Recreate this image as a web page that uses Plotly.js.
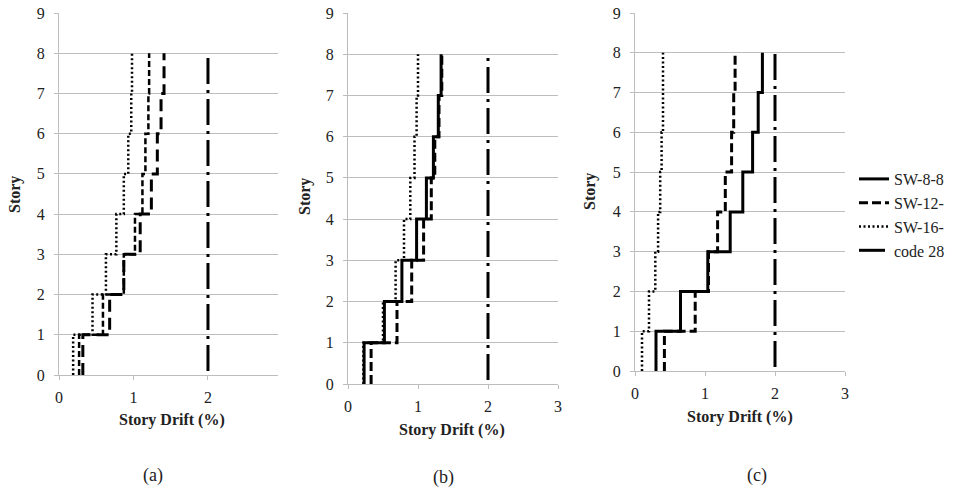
<!DOCTYPE html>
<html>
<head>
<meta charset="utf-8">
<script src="https://cdn.plot.ly/plotly-3.0.1.min.js"></script>
<style>html,body{margin:0;padding:0;background:#fff;}#chart{width:955px;height:490px;}</style>
</head>
<body>
<div id="chart"></div>
<script>
// ---- data (story drift, %, per story 1..8) ----
const stories = [0, 1, 2, 3, 4, 5, 6, 7, 8];
const yTicks = [0, 1, 2, 3, 4, 5, 6, 7, 8, 9];
const xTicksA = [0, 1, 2];
const xTicksBC = [0, 1, 2, 3];

// panel (a)
const a_outer  = [0.32, 0.68, 0.87, 1.09, 1.24, 1.32, 1.37, 1.41];
const a_middle = [0.27, 0.59, 0.87, 1.02, 1.12, 1.16, 1.20, 1.21];
const a_dotted = [0.19, 0.45, 0.63, 0.77, 0.87, 0.93, 0.97, 0.98];
// panel (b)
const b_sw8  = [0.23, 0.52, 0.77, 0.98, 1.12, 1.22, 1.29, 1.33];
const b_sw12 = [0.33, 0.70, 0.91, 1.08, 1.19, 1.24, 1.30, 1.34];
const b_sw16 = [0.22, 0.50, 0.68, 0.80, 0.89, 0.95, 0.98, 1.00];
// panel (c)
const c_sw8  = [0.30, 0.65, 1.04, 1.36, 1.54, 1.68, 1.76, 1.82];
const c_sw12 = [0.42, 0.86, 1.05, 1.18, 1.29, 1.38, 1.41, 1.43];
const c_sw16 = [0.10, 0.20, 0.29, 0.33, 0.36, 0.38, 0.40, 0.40];
// code limit
const codeX = [2, 2];
const codeY = [0.1, 8];

const seriesNames = ['SW-8-8', 'SW-12-', 'SW-16-', 'code 28'];
const panelLabels = ['(a)', '(b)', '(c)'];

// ---- helpers ----
const W = 955, H = 490;
const px = v => v / W;
const py = v => 1 - v / H;
const FONT = '"Liberation Serif", "Times New Roman", Times, serif';

function stepTrace(d, xa, ya, name, line, show) {
  return {
    x: d.concat([d[d.length - 1]]),
    y: stories,
    xaxis: xa, yaxis: ya,
    type: 'scatter', mode: 'lines',
    line: Object.assign({shape: 'vh', color: '#000'}, line),
    name: name, showlegend: !!show, legendgroup: name,
    hoverinfo: 'skip'
  };
}
function codeTrace(xa, ya, show) {
  return {
    x: codeX, y: codeY, xaxis: xa, yaxis: ya,
    type: 'scatter', mode: 'lines',
    line: {color: '#000', width: 3, dash: '26px,6px,3px,6px'},
    name: seriesNames[3], showlegend: !!show, legendgroup: seriesNames[3],
    hoverinfo: 'skip'
  };
}

const SOLID = {width: 3};
const DASH = {width: 3, dash: '9px,4px'};
const DOT = {width: 2.5, dash: '2px,2.5px'};

const traces = [
  // (a)
  stepTrace(a_dotted, 'x', 'y', seriesNames[2], DOT, false),
  stepTrace(a_middle, 'x', 'y', seriesNames[1], {width: 2.5, dash: '6px,3px'}, false),
  stepTrace(a_outer, 'x', 'y', seriesNames[0], {width: 3, dash: '12px,6px'}, false),
  codeTrace('x', 'y', false),
  // (b)
  stepTrace(b_sw16, 'x2', 'y2', seriesNames[2], DOT, false),
  stepTrace(b_sw12, 'x2', 'y2', seriesNames[1], DASH, false),
  stepTrace(b_sw8, 'x2', 'y2', seriesNames[0], SOLID, false),
  codeTrace('x2', 'y2', false),
  // (c)
  stepTrace(c_sw8, 'x3', 'y3', seriesNames[0], SOLID, true),
  stepTrace(c_sw12, 'x3', 'y3', seriesNames[1], DASH, true),
  stepTrace(c_sw16, 'x3', 'y3', seriesNames[2], DOT, true),
  codeTrace('x3', 'y3', true)
];

const tickFont = {family: FONT, size: 16, color: '#222'};
function xAxis(l, r, range, ticks, anchor) {
  return {
    domain: [px(l), px(r)], range: range, anchor: anchor,
    tickvals: ticks, ticktext: ticks.map(String),
    showgrid: false, zeroline: false,
    showline: true, linecolor: '#bdbdbd', linewidth: 1,
    ticks: 'outside', ticklen: 4, tickcolor: '#bdbdbd',
    ticklabelstandoff: 4,
    tickfont: tickFont, fixedrange: true
  };
}
function yAxis(top, bottom, anchor) {
  return {
    domain: [py(bottom), py(top)], range: [0, 9], anchor: anchor,
    tickvals: yTicks, ticktext: yTicks.map(String),
    showgrid: true, gridcolor: '#bdbdbd', gridwidth: 1,
    zeroline: false,
    showline: true, linecolor: '#bdbdbd', linewidth: 1,
    ticks: 'outside', ticklen: 4, tickcolor: '#bdbdbd',
    ticklabelstandoff: 6,
    tickfont: tickFont, fixedrange: true
  };
}

const titleFont = {family: FONT, size: 16, color: '#222'};
const annotations = [];
const storyPos = [[15, 195], [305, 197], [590, 192]];
const driftPos = [[172, 420], [452, 430], [740, 417]];
const labelPos = [[153, 475], [443, 477], [757, 475]];
for (let i = 0; i < 3; i++) {
  annotations.push({xref: 'paper', yref: 'paper', x: px(storyPos[i][0]), y: py(storyPos[i][1]),
    text: '<b>Story</b>', showarrow: false, textangle: -90, font: titleFont,
    xanchor: 'center', yanchor: 'middle'});
  annotations.push({xref: 'paper', yref: 'paper', x: px(driftPos[i][0]), y: py(driftPos[i][1]),
    text: '<b>Story Drift (%)</b>', showarrow: false, font: titleFont,
    xanchor: 'center', yanchor: 'middle'});
  annotations.push({xref: 'paper', yref: 'paper', x: px(labelPos[i][0]), y: py(labelPos[i][1]),
    text: panelLabels[i], showarrow: false, font: {family: FONT, size: 18, color: '#222'},
    xanchor: 'center', yanchor: 'middle'});
}

const layout = {
  width: W, height: H,
  font: {family: FONT},
  margin: {l: 0, r: 0, t: 0, b: 0},
  paper_bgcolor: '#fff', plot_bgcolor: '#fff',
  showlegend: true,
  legend: {x: px(854), y: py(162), xanchor: 'left', yanchor: 'top',
    bgcolor: 'rgba(0,0,0,0)', font: {family: FONT, size: 16, color: '#222'},
    traceorder: 'normal', itemwidth: 30},
  xaxis: xAxis(59, 278, [0, 2.94], xTicksA, 'y'),
  yaxis: yAxis(13, 375, 'x'),
  xaxis2: xAxis(348, 558, [0, 3], xTicksBC, 'y2'),
  yaxis2: yAxis(13, 384, 'x2'),
  xaxis3: xAxis(635, 845, [0, 3], xTicksBC, 'y3'),
  yaxis3: yAxis(13, 371, 'x3'),
  annotations: annotations
};

Plotly.newPlot('chart', traces, layout, {staticPlot: true, displayModeBar: false});
</script>
</body>
</html>
